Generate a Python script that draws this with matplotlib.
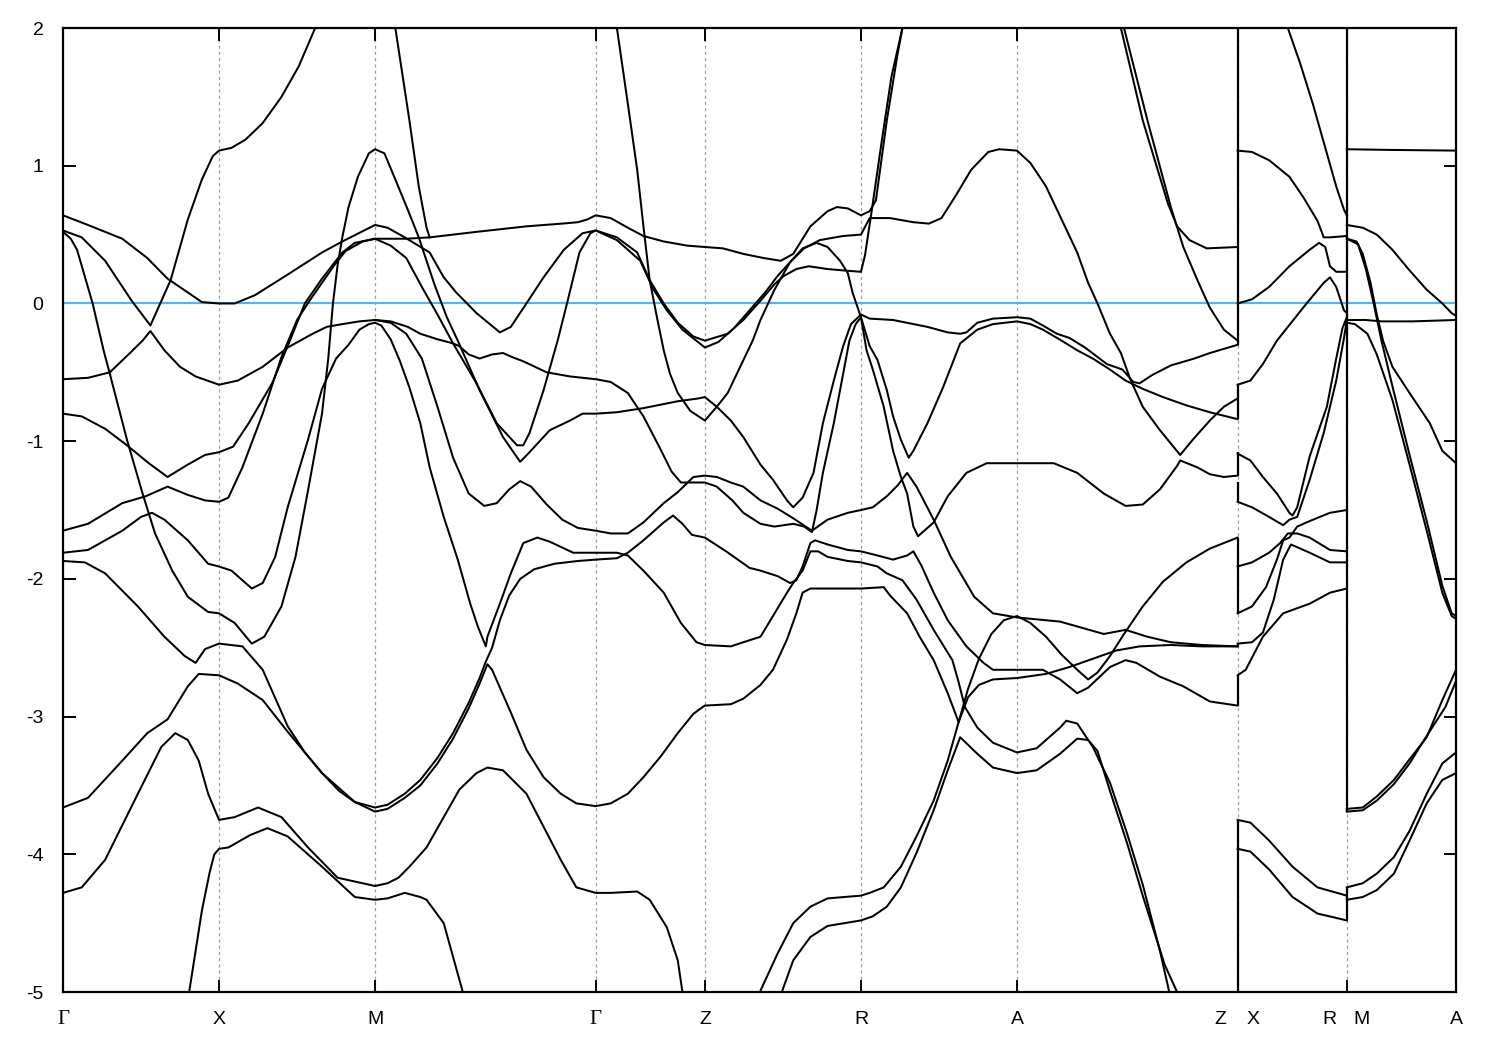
import matplotlib
matplotlib.use("Agg")
import matplotlib.pyplot as plt
from matplotlib.transforms import ScaledTranslation, blended_transform_factory

# ---------------- data ----------------
HS_POS = [0.0, 1.0, 2.0, 3.414, 4.114, 5.114, 6.114, 7.528, 8.228, 8.928]
HS_LABELS = ["Γ", "X", "M", "Γ", "Z", "R", "A", "Z|X", "R|M", "A"]
Y_TICKS = [2, 1, 0, -1, -2, -3, -4, -5]
FERMI = 0.0

band_01 = [(0, 0.64), (0.16, 0.57), (0.38, 0.47), (0.54, 0.33), (0.67, 0.18), (0.80, 0.08), (0.89, 0.01),
           (1.0, 0.0), (1.10, 0.0), (1.23, 0.06), (1.44, 0.21), (1.66, 0.37), (1.79, 0.45), (2.0, 0.57),
           (2.08, 0.55), (2.19, 0.48), (2.35, 0.37), (2.44, 0.19), (2.52, 0.08), (2.65, -0.07), (2.80, -0.21),
           (2.87, -0.17), (2.97, 0.0), (3.08, 0.19), (3.21, 0.39), (3.33, 0.51), (3.414, 0.53), (3.55, 0.46),
           (3.70, 0.31), (3.78, 0.11), (3.87, -0.05), (3.97, -0.19), (4.114, -0.32), (4.20, -0.28), (4.30, -0.18),
           (4.40, -0.05), (4.50, 0.08), (4.58, 0.20), (4.66, 0.30), (4.75, 0.40), (4.85, 0.46), (5.0, 0.49),
           (5.114, 0.50), (5.17, 0.62), (5.30, 0.62), (5.45, 0.59), (5.55, 0.58), (5.63, 0.62), (5.72, 0.78),
           (5.82, 0.97), (5.93, 1.10), (6.0, 1.12), (6.114, 1.11), (6.2, 1.02), (6.3, 0.85), (6.4, 0.61),
           (6.5, 0.37), (6.57, 0.15), (6.63, 0.0), (6.71, -0.22), (6.78, -0.36), (6.84, -0.55), (6.92, -0.75),
           (7.03, -0.92), (7.16, -1.10), (7.24, -0.99), (7.35, -0.85), (7.44, -0.75), (7.528, -0.69)]

band_02 = [(0, 0.53), (0.12, 0.48), (0.27, 0.31), (0.44, 0.02), (0.56, -0.16), (0.69, 0.17), (0.80, 0.61),
           (0.89, 0.90), (0.96, 1.07), (1.0, 1.11), (1.08, 1.13), (1.17, 1.19), (1.28, 1.31), (1.40, 1.50),
           (1.51, 1.72), (1.62, 2.01), (1.66, 2.12)]

band_03 = [(0, 0.52), (0.05, 0.47), (0.09, 0.39), (0.19, 0.0), (0.26, -0.34), (0.30, -0.51), (0.41, -0.99),
           (0.51, -1.38), (0.59, -1.67), (0.70, -1.94), (0.80, -2.13), (0.93, -2.24), (1.0, -2.25), (1.10, -2.32),
           (1.21, -2.47), (1.29, -2.42), (1.40, -2.20), (1.49, -1.84), (1.57, -1.36), (1.66, -0.80), (1.70, -0.40),
           (1.73, 0.0), (1.76, 0.28), (1.79, 0.48), (1.83, 0.70), (1.89, 0.92), (1.96, 1.09), (2.0, 1.12),
           (2.06, 1.09), (2.13, 0.90), (2.21, 0.68), (2.28, 0.48), (2.38, 0.14), (2.46, -0.10), (2.53, -0.27),
           (2.67, -0.63), (2.82, -0.97), (2.93, -1.15), (2.99, -1.08), (3.12, -0.92), (3.25, -0.85), (3.33, -0.80),
           (3.414, -0.80), (3.55, -0.79), (3.72, -0.76), (3.94, -0.71), (4.07, -0.69), (4.114, -0.68), (4.19, -0.75),
           (4.28, -0.85), (4.36, -0.97), (4.47, -1.17), (4.55, -1.28), (4.64, -1.43), (4.68, -1.48), (4.74, -1.41),
           (4.81, -1.23), (4.87, -0.87), (4.94, -0.56), (5.0, -0.31), (5.05, -0.15), (5.114, -0.08), (5.17, -0.11),
           (5.32, -0.12), (5.54, -0.17), (5.67, -0.21), (5.75, -0.22), (5.79, -0.21), (5.86, -0.14), (5.96, -0.11),
           (6.114, -0.10), (6.2, -0.11), (6.28, -0.16), (6.37, -0.22), (6.45, -0.25), (6.55, -0.32), (6.69, -0.44),
           (6.79, -0.48), (6.86, -0.57), (6.90, -0.58), (6.98, -0.52), (7.1, -0.45), (7.25, -0.40), (7.35, -0.36),
           (7.528, -0.30)]

band_04 = [(0, -0.55), (0.16, -0.54), (0.30, -0.50), (0.42, -0.37), (0.51, -0.27), (0.56, -0.20), (0.65, -0.34),
           (0.75, -0.46), (0.85, -0.53), (1.0, -0.59), (1.12, -0.56), (1.28, -0.46), (1.44, -0.32), (1.60, -0.22),
           (1.69, -0.17), (1.79, -0.15), (1.9, -0.13), (2.0, -0.12), (2.1, -0.14), (2.2, -0.22), (2.3, -0.40),
           (2.4, -0.75), (2.5, -1.12), (2.6, -1.38), (2.7, -1.47), (2.78, -1.45), (2.86, -1.35), (2.93, -1.29),
           (3.0, -1.33), (3.1, -1.46), (3.2, -1.57), (3.3, -1.63), (3.414, -1.65), (3.51, -1.67), (3.62, -1.67),
           (3.72, -1.59), (3.85, -1.45), (3.94, -1.37), (4.04, -1.26), (4.114, -1.25), (4.19, -1.26), (4.28, -1.30),
           (4.36, -1.33), (4.47, -1.43), (4.58, -1.49), (4.68, -1.56), (4.80, -1.65), (4.90, -1.57), (5.03, -1.52),
           (5.114, -1.50), (5.19, -1.48), (5.28, -1.40), (5.35, -1.32), (5.41, -1.23), (5.47, -1.33), (5.58, -1.57),
           (5.69, -1.84), (5.84, -2.13), (5.96, -2.25), (6.114, -2.28), (6.39, -2.31), (6.67, -2.40), (6.81, -2.37),
           (6.95, -2.42), (7.1, -2.46), (7.3, -2.48), (7.528, -2.49)]

band_05 = [(0, -0.80), (0.12, -0.82), (0.27, -0.91), (0.41, -1.03), (0.55, -1.16), (0.67, -1.26), (0.80, -1.17),
           (0.91, -1.10), (1.0, -1.08), (1.09, -1.04), (1.19, -0.87), (1.34, -0.58), (1.44, -0.31), (1.55, 0.0),
           (1.66, 0.18), (1.79, 0.37), (1.87, 0.44), (2.0, 0.47), (2.1, 0.47), (2.2, 0.47), (2.35, 0.48),
           (2.65, 0.52), (2.97, 0.56), (3.20, 0.58), (3.30, 0.59), (3.36, 0.61), (3.414, 0.64), (3.51, 0.62),
           (3.62, 0.55), (3.72, 0.49), (3.85, 0.45), (4.0, 0.42), (4.114, 0.41), (4.23, 0.40), (4.36, 0.36),
           (4.49, 0.33), (4.60, 0.31), (4.68, 0.36), (4.79, 0.56), (4.90, 0.67), (4.96, 0.70), (5.03, 0.69),
           (5.114, 0.64), (5.17, 0.67), (5.21, 0.75), (5.28, 1.33), (5.35, 1.82), (5.38, 2.0), (5.40, 2.15)]

band_06 = [(0, -1.65), (0.16, -1.60), (0.38, -1.45), (0.53, -1.40), (0.67, -1.33), (0.80, -1.39), (0.91, -1.43),
           (1.0, -1.44), (1.06, -1.41), (1.15, -1.19), (1.28, -0.80), (1.40, -0.39), (1.50, -0.12), (1.58, 0.02),
           (1.66, 0.15), (1.74, 0.28), (1.81, 0.38), (1.92, 0.45), (2.0, 0.47), (2.1, 0.42), (2.2, 0.33),
           (2.3, 0.12), (2.4, -0.08), (2.5, -0.29), (2.65, -0.58), (2.78, -0.87), (2.91, -1.03), (2.95, -1.03),
           (2.99, -0.94), (3.08, -0.63), (3.17, -0.27), (3.23, 0.0), (3.31, 0.37), (3.38, 0.51), (3.414, 0.53),
           (3.55, 0.48), (3.68, 0.37), (3.76, 0.17), (3.85, 0.0), (3.94, -0.14), (4.04, -0.24), (4.114, -0.27),
           (4.26, -0.22), (4.36, -0.12), (4.47, 0.02), (4.56, 0.14), (4.62, 0.20), (4.70, 0.25), (4.78, 0.27),
           (4.90, 0.25), (5.0, 0.24), (5.114, 0.23), (5.14, 0.35), (5.18, 0.65), (5.25, 1.20), (5.31, 1.65),
           (5.38, 2.0), (5.40, 2.15)]

band_07 = [(3.53, 2.1), (3.55, 2.0), (3.62, 1.45), (3.68, 0.97), (3.72, 0.56), (3.76, 0.17), (3.81, -0.12),
           (3.85, -0.34), (3.89, -0.51), (3.94, -0.65), (4.02, -0.78), (4.114, -0.85), (4.19, -0.75), (4.26, -0.65),
           (4.34, -0.46), (4.42, -0.27), (4.47, -0.12), (4.56, 0.10), (4.66, 0.30), (4.74, 0.40), (4.83, 0.44),
           (4.90, 0.41), (4.98, 0.31), (5.03, 0.22), (5.06, 0.08), (5.114, -0.10), (5.17, -0.31), (5.22, -0.41),
           (5.28, -0.63), (5.32, -0.82), (5.37, -0.99), (5.42, -1.12), (5.45, -1.07), (5.54, -0.87), (5.64, -0.61),
           (5.75, -0.29), (5.86, -0.19), (5.96, -0.15), (6.114, -0.13), (6.2, -0.15), (6.28, -0.19), (6.40, -0.27),
           (6.50, -0.34), (6.60, -0.40), (6.71, -0.48), (6.81, -0.56), (6.92, -0.62), (7.05, -0.68), (7.2, -0.74),
           (7.35, -0.79), (7.528, -0.84)]

band_08 = [(0, -1.81), (0.16, -1.79), (0.38, -1.65), (0.50, -1.55), (0.57, -1.52), (0.65, -1.57), (0.80, -1.72),
           (0.93, -1.89), (1.0, -1.91), (1.08, -1.94), (1.21, -2.07), (1.28, -2.03), (1.36, -1.84), (1.44, -1.48),
           (1.57, -0.99), (1.66, -0.62), (1.75, -0.40), (1.83, -0.30), (1.90, -0.19), (1.96, -0.15), (2.0, -0.14),
           (2.04, -0.16), (2.10, -0.26), (2.16, -0.42), (2.22, -0.61), (2.29, -0.87), (2.35, -1.19), (2.44, -1.55),
           (2.53, -1.86), (2.61, -2.18), (2.66, -2.35), (2.71, -2.49), (2.72, -2.42), (2.80, -2.18), (2.87, -1.96),
           (2.95, -1.74), (3.04, -1.70), (3.12, -1.73), (3.27, -1.81), (3.414, -1.81), (3.55, -1.81), (3.62, -1.83),
           (3.72, -1.94), (3.85, -2.10), (3.96, -2.32), (4.06, -2.46), (4.114, -2.48), (4.28, -2.49), (4.36, -2.46),
           (4.47, -2.42), (4.55, -2.27), (4.64, -2.10), (4.68, -2.03), (4.74, -1.94), (4.79, -1.80), (4.84, -1.80),
           (4.90, -1.84), (5.03, -1.87), (5.114, -1.88), (5.22, -1.91), (5.28, -1.96), (5.38, -2.01), (5.47, -2.15),
           (5.58, -2.37), (5.70, -2.59), (5.74, -2.75), (5.78, -2.93), (5.86, -3.08), (5.96, -3.19), (6.114, -3.26),
           (6.24, -3.23), (6.39, -3.08), (6.43, -3.03), (6.50, -3.05), (6.60, -3.22), (6.71, -3.48), (6.82, -3.85),
           (6.92, -4.22), (7.03, -4.70), (7.10, -5.05)]

band_09 = [(0, -1.87), (0.14, -1.88), (0.27, -1.96), (0.48, -2.20), (0.65, -2.42), (0.78, -2.56), (0.85, -2.61),
           (0.91, -2.51), (1.0, -2.47), (1.15, -2.49), (1.28, -2.66), (1.44, -3.07), (1.55, -3.26), (1.66, -3.41),
           (1.77, -3.54), (1.87, -3.62), (2.0, -3.66), (2.08, -3.64), (2.19, -3.56), (2.29, -3.46), (2.40, -3.30),
           (2.50, -3.12), (2.60, -2.90), (2.67, -2.72), (2.71, -2.60), (2.75, -2.50), (2.80, -2.30), (2.86, -2.12),
           (2.93, -2.00), (3.02, -1.93), (3.15, -1.89), (3.30, -1.87), (3.414, -1.86), (3.55, -1.85), (3.62, -1.81),
           (3.72, -1.72), (3.85, -1.59), (3.91, -1.54), (3.97, -1.60), (4.03, -1.68), (4.114, -1.70), (4.25, -1.80),
           (4.40, -1.92), (4.47, -1.94), (4.58, -1.98), (4.66, -2.03), (4.70, -2.01), (4.74, -1.91), (4.79, -1.74),
           (4.82, -1.72), (4.90, -1.75), (5.03, -1.79), (5.114, -1.80), (5.22, -1.83), (5.32, -1.86), (5.41, -1.83),
           (5.45, -1.80), (5.50, -1.90), (5.58, -2.10), (5.67, -2.30), (5.79, -2.49), (5.90, -2.61), (5.96, -2.66),
           (6.114, -2.66), (6.28, -2.66), (6.39, -2.73), (6.50, -2.83), (6.57, -2.79), (6.71, -2.64), (6.81, -2.59),
           (6.88, -2.61), (7.03, -2.71), (7.18, -2.78), (7.35, -2.89), (7.528, -2.92)]

band_10 = [(0, -3.66), (0.16, -3.59), (0.38, -3.32), (0.54, -3.12), (0.67, -3.02), (0.80, -2.78), (0.87, -2.69),
           (1.0, -2.70), (1.12, -2.76), (1.28, -2.88), (1.44, -3.11), (1.66, -3.41), (1.87, -3.62), (2.0, -3.69),
           (2.08, -3.67), (2.19, -3.59), (2.29, -3.50), (2.40, -3.34), (2.50, -3.16), (2.60, -2.94), (2.67, -2.76),
           (2.72, -2.62), (2.75, -2.66), (2.87, -2.97), (2.97, -3.24), (3.08, -3.44), (3.19, -3.56), (3.29, -3.63),
           (3.414, -3.65), (3.51, -3.63), (3.62, -3.56), (3.72, -3.44), (3.83, -3.29), (3.94, -3.12), (4.04, -2.98),
           (4.10, -2.93), (4.114, -2.92), (4.28, -2.91), (4.36, -2.87), (4.47, -2.77), (4.55, -2.66), (4.64, -2.44),
           (4.70, -2.25), (4.74, -2.10), (4.79, -2.07), (4.90, -2.07), (5.114, -2.07), (5.26, -2.06), (5.30, -2.12),
           (5.41, -2.25), (5.49, -2.42), (5.58, -2.59), (5.67, -2.83), (5.74, -3.04), (5.80, -2.86), (5.87, -2.77),
           (5.96, -2.73), (6.114, -2.72), (6.3, -2.69), (6.45, -2.64), (6.6, -2.58), (6.75, -2.52), (6.9, -2.49),
           (7.1, -2.48), (7.3, -2.49), (7.528, -2.49)]

band_11 = [(0, -4.28), (0.12, -4.24), (0.27, -4.04), (0.48, -3.56), (0.63, -3.22), (0.72, -3.12), (0.80, -3.17),
           (0.87, -3.32), (0.93, -3.56), (1.0, -3.75), (1.10, -3.73), (1.25, -3.66), (1.40, -3.73), (1.57, -3.95),
           (1.76, -4.17), (2.0, -4.23), (2.08, -4.21), (2.15, -4.17), (2.22, -4.09), (2.33, -3.95), (2.44, -3.73),
           (2.54, -3.53), (2.65, -3.41), (2.72, -3.37), (2.82, -3.39), (2.97, -3.56), (3.08, -3.80), (3.19, -4.04),
           (3.29, -4.24), (3.414, -4.28), (3.51, -4.28), (3.68, -4.27), (3.76, -4.33), (3.87, -4.53), (3.94, -4.77),
           (3.97, -5.0), (3.99, -5.1)]

band_12 = [(4.46, -5.1), (4.47, -4.99), (4.58, -4.72), (4.68, -4.50), (4.79, -4.38), (4.90, -4.32), (5.114, -4.30),
           (5.17, -4.28), (5.26, -4.24), (5.37, -4.09), (5.47, -3.87), (5.58, -3.61), (5.67, -3.32), (5.74, -3.04),
           (5.80, -2.80), (5.87, -2.58), (5.95, -2.40), (6.03, -2.30), (6.114, -2.27), (6.2, -2.32), (6.3, -2.42),
           (6.4, -2.55), (6.5, -2.66), (6.57, -2.73), (6.63, -2.68), (6.71, -2.56), (6.80, -2.40), (6.92, -2.20),
           (7.05, -2.02), (7.2, -1.88), (7.35, -1.78), (7.528, -1.70)]

band_13 = [(4.60, -5.1), (4.61, -4.99), (4.68, -4.77), (4.79, -4.60), (4.90, -4.52), (5.114, -4.48), (5.19, -4.45),
           (5.28, -4.38), (5.37, -4.24), (5.47, -3.99), (5.58, -3.68), (5.67, -3.39), (5.75, -3.15), (5.86, -3.27),
           (5.96, -3.37), (6.114, -3.41), (6.24, -3.39), (6.39, -3.27), (6.50, -3.16), (6.57, -3.17), (6.63, -3.25),
           (6.71, -3.54), (6.82, -3.92), (6.92, -4.30), (7.06, -4.80), (7.16, -5.05)]

band_15 = [(2.0, -0.12), (2.1, -0.13), (2.21, -0.17), (2.29, -0.22), (2.40, -0.26), (2.50, -0.29), (2.54, -0.31),
           (2.60, -0.37), (2.67, -0.40), (2.75, -0.37), (2.82, -0.36), (2.88, -0.39), (2.95, -0.42), (3.10, -0.50),
           (3.25, -0.53), (3.414, -0.55), (3.51, -0.57), (3.62, -0.65), (3.72, -0.82), (3.83, -1.06), (3.90, -1.22),
           (3.96, -1.30), (4.03, -1.30), (4.114, -1.30), (4.19, -1.33), (4.29, -1.43), (4.36, -1.52),
           (4.47, -1.60), (4.56, -1.62), (4.68, -1.60), (4.75, -1.62), (4.80, -1.66), (4.83, -1.50), (4.87, -1.23),
           (4.94, -0.87), (5.0, -0.51), (5.04, -0.27), (5.08, -0.15), (5.114, -0.10), (5.15, -0.34), (5.19, -0.48),
           (5.26, -0.75), (5.32, -1.07), (5.37, -1.26), (5.41, -1.38), (5.45, -1.62), (5.48, -1.69), (5.58, -1.59),
           (5.67, -1.40), (5.79, -1.23), (5.92, -1.16), (6.114, -1.16), (6.35, -1.16), (6.50, -1.23), (6.67, -1.38),
           (6.81, -1.47), (6.92, -1.46), (7.03, -1.35), (7.14, -1.18), (7.16, -1.14), (7.27, -1.19), (7.35, -1.24),
           (7.44, -1.26), (7.528, -1.25)]

band_16 = [(6.76, 2.1), (6.78, 2.0), (6.92, 1.33), (7.08, 0.73), (7.14, 0.56), (7.22, 0.46), (7.33, 0.40), (7.528, 0.41)]
band_17 = [(6.78, 2.1), (6.80, 2.0), (6.95, 1.33), (7.10, 0.70), (7.18, 0.41), (7.27, 0.17), (7.35, -0.03),
           (7.44, -0.19), (7.528, -0.27)]
band_18 = [(2.12, 2.1), (2.13, 2.0), (2.22, 1.33), (2.28, 0.85), (2.33, 0.55), (2.35, 0.48)]
band_19 = [(0.80, -5.1), (0.81, -4.99), (0.85, -4.70), (0.89, -4.41), (0.94, -4.13), (0.97, -4.0), (1.0, -3.96),
           (1.06, -3.95), (1.20, -3.86), (1.31, -3.81), (1.44, -3.87), (1.66, -4.09), (1.87, -4.31), (2.0, -4.33),
           (2.08, -4.32), (2.19, -4.28), (2.29, -4.31), (2.33, -4.33), (2.44, -4.50), (2.56, -4.99), (2.57, -5.1)]

# X -> R segment
xr_01 = [(7.528, 1.11), (7.62, 1.10), (7.73, 1.04), (7.86, 0.92), (7.95, 0.77), (8.04, 0.60), (8.08, 0.48), (8.12, 0.48), (8.228, 0.49)]
xr_02 = [(7.84, 2.1), (7.85, 2.0), (7.93, 1.74), (8.01, 1.45), (8.10, 1.09), (8.16, 0.85), (8.21, 0.68), (8.228, 0.64)]
xr_03 = [(7.528, 0.0), (7.62, 0.03), (7.73, 0.12), (7.86, 0.27), (7.99, 0.39), (8.05, 0.44), (8.09, 0.41), (8.12, 0.27), (8.16, 0.23), (8.228, 0.23)]
xr_04 = [(7.528, -0.59), (7.61, -0.56), (7.69, -0.44), (7.78, -0.27), (7.85, -0.17), (7.97, 0.0), (8.08, 0.15), (8.12, 0.19), (8.16, 0.12), (8.21, -0.05), (8.228, -0.07)]
xr_05 = [(7.528, -1.09), (7.61, -1.14), (7.69, -1.26), (7.78, -1.38), (7.86, -1.52), (7.88, -1.54), (7.91, -1.48), (7.99, -1.11), (8.10, -0.75), (8.16, -0.40), (8.20, -0.18), (8.228, -0.10)]
xr_06 = [(7.528, -1.44), (7.62, -1.48), (7.73, -1.55), (7.82, -1.61), (7.86, -1.57), (7.91, -1.55), (7.99, -1.28), (8.08, -0.94), (8.16, -0.56), (8.21, -0.25), (8.228, -0.12)]
xr_07 = [(7.528, -1.91), (7.62, -1.88), (7.73, -1.81), (7.80, -1.74), (7.85, -1.67), (7.91, -1.67), (7.99, -1.70), (8.12, -1.79), (8.228, -1.80)]
xr_08 = [(7.528, -2.25), (7.62, -2.20), (7.71, -2.06), (7.78, -1.86), (7.82, -1.72), (7.86, -1.70), (7.91, -1.62), (7.99, -1.58), (8.12, -1.52), (8.228, -1.50)]
xr_09 = [(7.528, -2.47), (7.62, -2.46), (7.69, -2.39), (7.76, -2.15), (7.82, -1.86), (7.87, -1.75), (7.91, -1.77), (7.99, -1.81), (8.12, -1.88), (8.228, -1.88)]
xr_10 = [(7.528, -2.70), (7.58, -2.66), (7.69, -2.42), (7.82, -2.25), (7.99, -2.18), (8.12, -2.10), (8.228, -2.07)]
xr_11 = [(7.528, -3.75), (7.61, -3.77), (7.73, -3.90), (7.88, -4.09), (8.04, -4.24), (8.228, -4.30)]
xr_12 = [(7.528, -3.96), (7.61, -3.98), (7.73, -4.11), (7.88, -4.31), (8.04, -4.43), (8.228, -4.48)]

# M -> A segment
ma_01 = [(8.228, 1.12), (8.5, 1.115), (8.928, 1.11)]
ma_02 = [(8.228, 0.57), (8.33, 0.55), (8.42, 0.50), (8.52, 0.39), (8.63, 0.24), (8.74, 0.10), (8.84, 0.0), (8.90, -0.07), (8.928, -0.09)]
ma_03 = [(8.228, 0.47), (8.29, 0.45), (8.33, 0.36), (8.38, 0.15), (8.42, -0.08), (8.46, -0.27), (8.52, -0.46), (8.63, -0.65), (8.76, -0.87), (8.84, -1.07), (8.928, -1.16)]
ma_04 = [(8.228, 0.47), (8.30, 0.43), (8.35, 0.25), (8.40, 0.0), (8.45, -0.27), (8.52, -0.60), (8.63, -1.10), (8.74, -1.58), (8.84, -2.05), (8.90, -2.25), (8.928, -2.27)]
ma_05 = [(8.228, -0.12), (8.35, -0.12), (8.45, -0.13), (8.65, -0.13), (8.928, -0.12)]
ma_06 = [(8.228, -0.14), (8.28, -0.15), (8.36, -0.22), (8.42, -0.37), (8.52, -0.70), (8.63, -1.17), (8.74, -1.65), (8.84, -2.10), (8.90, -2.27), (8.928, -2.29)]
ma_07 = [(8.228, -3.67), (8.33, -3.66), (8.42, -3.58), (8.53, -3.46), (8.63, -3.31), (8.74, -3.15), (8.84, -2.88), (8.928, -2.66)]
ma_08 = [(8.228, -3.69), (8.33, -3.68), (8.42, -3.61), (8.53, -3.49), (8.63, -3.34), (8.74, -3.14), (8.86, -2.93), (8.928, -2.74)]
ma_09 = [(8.228, -4.24), (8.33, -4.21), (8.42, -4.14), (8.53, -4.02), (8.63, -3.83), (8.74, -3.56), (8.84, -3.34), (8.928, -3.26)]
ma_10 = [(8.228, -4.33), (8.33, -4.31), (8.42, -4.26), (8.53, -4.14), (8.63, -3.90), (8.74, -3.63), (8.84, -3.46), (8.928, -3.41)]

# vertical jumps where the path is discontinuous (Z|X and R|M)
JUMPS_ZX = [(2.05, -0.30), (-0.59, -0.84), (-1.08, -1.25), (-1.30, -1.44), (-1.70, -2.25), (-2.47, -2.49), (-2.70, -2.92), (-3.75, -5.05)]
JUMPS_RM = [(2.05, -3.69), (-4.24, -4.48)]

BANDS = [band_01, band_02, band_03, band_04, band_05, band_06, band_07, band_08, band_09, band_10,
         band_11, band_12, band_13, band_15, band_16, band_17, band_18, band_19,
         xr_01, xr_02, xr_03, xr_04, xr_05, xr_06, xr_07, xr_08, xr_09, xr_10, xr_11, xr_12,
         ma_01, ma_02, ma_03, ma_04, ma_05, ma_06, ma_07, ma_08, ma_09, ma_10]

# ---------------- plot ----------------
plt.rcParams['font.family'] = ['Liberation Sans', 'DejaVu Sans']
fig = plt.figure(figsize=(15, 10.5), dpi=100)
ax = fig.add_axes([0.042, 0.0552, 0.9287, 0.9181])

ax.set_xlim(HS_POS[0], HS_POS[-1])
ax.set_ylim(-5, 2)

for xp in HS_POS[1:-1]:
    ax.axvline(xp, color='#a0a0a0', lw=0.9, ls=(0, (2.5, 2.5)), zorder=1)

ax.axhline(FERMI, color='#56b4e9', lw=1.6, zorder=2)

for band in BANDS:
    ks = [p[0] for p in band]
    es = [p[1] for p in band]
    ax.plot(ks, es, color='black', lw=1.45, zorder=3, solid_joinstyle='round')

for lo, hi in JUMPS_ZX:
    ax.vlines(HS_POS[7], min(lo, hi), max(lo, hi), color='black', lw=1.6, zorder=3)
for lo, hi in JUMPS_RM:
    ax.vlines(HS_POS[8], min(lo, hi), max(lo, hi), color='black', lw=1.6, zorder=3)

for s in ax.spines.values():
    s.set_linewidth(1.6)

ax.set_yticks(Y_TICKS)
ax.set_yticklabels([str(v) for v in Y_TICKS])
ax.tick_params(axis='y', direction='in', length=9, width=1.4, right=True, left=True,
               labelsize=14, pad=14)
ax.set_xticks(HS_POS)
ax.set_xticklabels([""] * len(HS_POS))
ax.tick_params(axis='x', direction='in', length=9, width=1.4, top=True, bottom=True)

trans = blended_transform_factory(ax.transData, ax.transAxes)
label_y = -0.029
for xp, lab in zip(HS_POS, HS_LABELS):
    if "|" in lab:
        left, right = lab.split("|")
        for txt, dx in ((left, -17), (right, 15)):
            t = trans + ScaledTranslation(dx / 100.0, 0, fig.dpi_scale_trans)
            ax.text(xp, label_y, txt, transform=t, ha='center', va='center', fontsize=14)
    else:
        fam = ['Liberation Serif', 'DejaVu Serif'] if lab == "Γ" else ['Liberation Sans', 'DejaVu Sans']
        ax.text(xp, label_y, lab, transform=trans, ha='center', va='center',
                fontsize=15 if lab == "Γ" else 14, family=fam)

fig.savefig("out.png", dpi=100)
